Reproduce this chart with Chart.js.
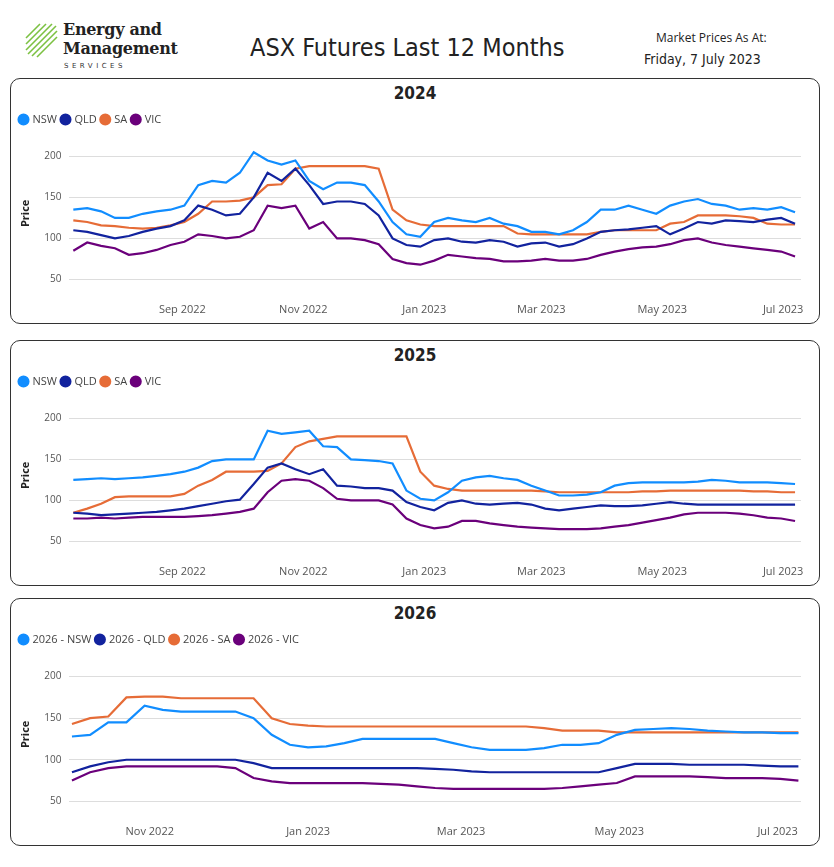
<!DOCTYPE html>
<html><head><meta charset="utf-8">
<script src="https://cdn.jsdelivr.net/npm/chart.js@4"></script>
<style>
body{margin:0;width:834px;height:867px;background:#fff;font-family:"Segoe UI","Open Sans",sans-serif;position:relative;overflow:hidden}
.panel{position:absolute;left:10px;width:810px;border:1px solid #333;border-radius:10px;box-sizing:border-box}
.ptitle{position:absolute;top:4px;left:0;right:0;text-align:center;font:bold 17px "DejaVu Sans Condensed","DejaVu Sans",sans-serif;color:#222}
.cw{position:absolute;left:4px;right:4px;top:30px;bottom:4px}
</style></head><body>
<svg style="position:absolute;left:24px;top:22px" width="34" height="40">
<g stroke="#7cc142" stroke-width="1.6">
<line x1="2" y1="22" x2="22" y2="2"/><line x1="2" y1="28" x2="28" y2="2"/><line x1="4" y1="32" x2="32" y2="4"/>
<line x1="8" y1="34" x2="33" y2="9"/><line x1="13" y1="35" x2="33" y2="15"/><line x1="2" y1="16" x2="16" y2="2"/>
</g></svg>
<div style="position:absolute;left:63px;top:20px;font:bold 16px 'DejaVu Serif',serif;line-height:19px;color:#222;letter-spacing:-0.3px">Energy and<br>Management</div>
<div style="position:absolute;left:64px;top:62px;font:7px 'DejaVu Sans';letter-spacing:3.5px;color:#333">SERVICES</div>
<div style="position:absolute;left:250px;top:33px;font:25px 'DejaVu Sans Condensed','DejaVu Sans',sans-serif;color:#222">ASX Futures Last 12 Months</div>
<div style="position:absolute;left:656px;top:29px;font:12px 'Open Sans',sans-serif;color:#222">Market Prices As At:</div>
<div style="position:absolute;left:644px;top:51px;font:14px 'DejaVu Sans Condensed','DejaVu Sans',sans-serif;color:#222">Friday, 7 July 2023</div>

<div class="panel" style="top:78px;height:246px"><div class="ptitle">2024</div><div class="cw"><canvas id="c1"></canvas></div></div>
<div class="panel" style="top:340px;height:246px"><div class="ptitle">2025</div><div class="cw"><canvas id="c2"></canvas></div></div>
<div class="panel" style="top:598px;height:248px"><div class="ptitle">2026</div><div class="cw"><canvas id="c3"></canvas></div></div>
<script>
// weekly observation dates start
const start1 = "2022-07-08"; // panels 2024, 2025
const start3 = "2022-10-02"; // panel 2026
const nsw24=[135,137,133,125,125,130,133,135,140,165,170,168,180,205,195,190,195,170,160,168,168,165,145,120,105,102,120,125,122,120,125,118,115,108,108,105,110,120,135,135,140,135,130,140,145,148,142,140,135,137,135,138,132];
const qld24=[110,108,104,100,103,108,112,115,122,140,135,128,130,150,180,170,185,165,142,145,145,142,128,100,92,90,98,100,96,95,98,96,90,94,95,90,93,100,108,110,111,113,115,105,112,120,118,122,121,120,123,125,118];
const sa24=[122,120,116,115,113,112,113,116,120,130,145,145,146,150,165,166,185,188,188,188,188,188,185,135,122,117,115,115,115,115,115,115,106,105,105,105,105,105,108,110,110,110,110,118,120,128,128,128,127,125,118,117,117];
const vic24=[85,95,91,88,80,82,86,92,96,105,103,100,102,110,140,137,140,112,120,100,100,98,93,75,70,68,73,80,78,76,75,72,72,73,75,73,73,75,80,84,87,89,90,93,98,100,95,92,90,88,86,84,78];
const nsw25=[125,126,127,126,127,128,130,132,135,140,148,150,150,150,185,181,183,185,166,165,150,149,148,145,112,102,100,110,124,128,130,127,125,118,112,106,106,107,110,118,121,122,122,122,122,123,125,124,122,122,122,121,120];
const qld25=[85,84,82,83,84,85,86,88,90,93,96,99,101,120,140,145,138,132,138,118,117,115,115,112,98,92,88,97,100,96,95,96,97,95,90,88,90,92,94,93,93,94,96,98,96,95,95,95,95,95,95,95,95];
const sa25=[85,90,96,104,105,105,105,105,108,118,125,135,135,135,136,145,165,172,175,178,178,178,178,178,178,135,118,114,112,112,112,112,112,112,111,110,110,110,110,110,110,111,111,112,112,112,112,112,112,111,111,110,110];
const vic25=[78,78,79,78,79,80,80,80,80,81,82,84,86,90,110,124,126,124,115,102,100,100,100,95,78,70,66,68,75,75,72,70,68,67,66,65,65,65,66,68,70,73,76,79,83,85,85,85,84,82,79,78,75];
const nsw26=[128,130,145,145,165,160,158,158,158,158,150,130,118,115,116,120,125,125,125,125,125,120,115,112,112,112,114,118,118,120,130,136,137,138,137,135,134,133,133,132,132];
const qld26=[85,92,97,100,100,100,100,100,100,100,96,90,90,90,90,90,90,90,90,90,89,88,86,85,85,85,85,85,85,85,90,95,95,95,94,94,94,94,93,92,92];
const sa26=[143,150,152,175,176,176,174,174,174,174,174,150,143,141,140,140,140,140,140,140,140,140,140,140,140,140,138,135,135,135,133,133,133,133,133,133,133,133,133,133,133];
const vic26=[75,85,90,92,92,92,92,92,92,90,78,74,72,72,72,72,72,71,70,68,66,65,65,65,65,65,65,66,68,70,72,80,80,80,80,79,78,78,78,77,75];
const ticks1=["2022-09-01","2022-11-01","2023-01-01","2023-03-01","2023-05-01","2023-07-01"];
const ticks3=["2022-11-01","2023-01-01","2023-03-01","2023-05-01","2023-07-01"];
const names=["NSW","QLD","SA","VIC"];
const names26=["2026 - NSW","2026 - QLD","2026 - SA","2026 - VIC"];
const colors=["#118DFF","#12239E","#E66C37","#6B007B"];
const MON=["Jan","Feb","Mar","Apr","May","Jun","Jul","Aug","Sep","Oct","Nov","Dec"];
const day=s=>Date.parse(s+"T00:00:00Z")/86400000;
function make(id,startStr,series,labels,tickDates,xmin,xmax){
  const s0=day(startStr);
  const tv=tickDates.map(day);
  new Chart(document.getElementById(id),{type:'line',
    data:{datasets:series.map((a,k)=>({label:labels[k],data:a.map((v,i)=>({x:s0+7*i,y:v})),borderColor:colors[k],backgroundColor:colors[k],borderWidth:2.2,pointRadius:0,tension:0}))},
    options:{responsive:true,maintainAspectRatio:false,animation:false,
      layout:{padding:{right:14}},
      plugins:{legend:{position:'top',align:'start',labels:{usePointStyle:true,pointStyle:'circle',boxWidth:7,boxHeight:7,padding:5,color:'#444',font:{size:11,family:'"Open Sans",sans-serif'}}},tooltip:{enabled:false}},
      scales:{
        x:{type:'linear',min:day(xmin),max:day(xmax),grid:{display:false},border:{display:false},
          afterBuildTicks:ax=>{ax.ticks=tv.map(v=>({value:v}));},
          ticks:{color:'#555',font:{size:11,family:'"Open Sans",sans-serif'},maxRotation:0,callback:v=>{const d=new Date(v*86400000);return MON[d.getUTCMonth()]+" "+d.getUTCFullYear();}}},
        y:{min:35,max:226,afterBuildTicks:ax=>{ax.ticks=[50,100,150,200].map(v=>({value:v}));},
          grid:{color:'#ddd',borderDash:[1,3],drawTicks:false},border:{display:false},
          ticks:{color:'#555',padding:8,font:{size:10,family:'"Open Sans",sans-serif'}},
          title:{display:true,text:'Price',color:'#222',font:{size:11,weight:'bold',family:'"Open Sans",sans-serif'},padding:{bottom:4}}}
      }}});
}
make('c1',start1,[nsw24,qld24,sa24,vic24],names,ticks1,"2022-07-06","2023-07-10");
make('c2',start1,[nsw25,qld25,sa25,vic25],names,ticks1,"2022-07-06","2023-07-10");
make('c3',start3,[nsw26,qld26,sa26,vic26],names26,ticks3,"2022-10-01","2023-07-10");
</script></body></html>
